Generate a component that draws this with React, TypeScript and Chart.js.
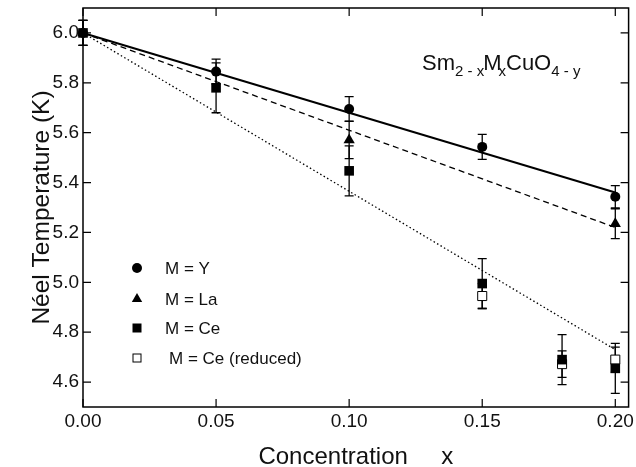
import React, { useEffect, useRef } from 'react';
import { Chart, registerables } from 'chart.js';

Chart.register(...registerables);

const FONT = '"Liberation Sans", Arial, Helvetica, sans-serif';

// Axis ticks
const xTicks = [0, 0.05, 0.1, 0.15, 0.2];
const yTicks = [4.6, 4.8, 5.0, 5.2, 5.4, 5.6, 5.8, 6.0];

// M = Y
const xY = [0, 0.05, 0.1, 0.15, 0.2];
const tY = [6.0, 5.845, 5.695, 5.543, 5.343];
const eY = [0.05, 0.05, 0.05, 0.05, 0.045];

// M = La
const xLa = [0, 0.1, 0.2];
const tLa = [6.0, 5.571, 5.235];
const eLa = [0.05, 0.075, 0.06];

// M = Ce
const xCe = [0, 0.05, 0.1, 0.15, 0.18, 0.2];
const tCe = [6.0, 5.78, 5.447, 4.995, 4.69, 4.655];
const eCe = [0.05, 0.1, 0.1, 0.1, 0.1, 0.1];

// M = Ce (reduced)
const xCeR = [0.15, 0.18, 0.2];
const tCeR = [4.945, 4.672, 4.69];
const eCeR = [0.05, 0.053, 0.05];

// Linear fits
const fitX = [0, 0.2];
const fitYv = [6.0, 5.36];
const fitLav = [6.0, 5.22];
const fitCev = [6.0, 4.73];

const legendLabels = ['M = Y', 'M = La', 'M = Ce', 'M = Ce (reduced)'];

const pts = (xs: number[], ys: number[]) => xs.map((x, i) => ({ x, y: ys[i] }));

const errSets = [
  { x: xY, y: tY, e: eY },
  { x: xLa, y: tLa, e: eLa },
  { x: xCe, y: tCe, e: eCe },
  { x: xCeR, y: tCeR, e: eCeR },
];

const errorBarsPlugin = {
  id: 'errorBars',
  beforeDatasetsDraw(chart: any) {
    const { ctx, scales } = chart;
    const xs = scales.x;
    const ys = scales.y;
    ctx.save();
    ctx.strokeStyle = '#000';
    ctx.lineWidth = 1.3;
    const cap = 4.5;
    errSets.forEach((s) => {
      s.x.forEach((xv, i) => {
        const px = xs.getPixelForValue(xv);
        const top = ys.getPixelForValue(s.y[i] + s.e[i]);
        const bot = ys.getPixelForValue(s.y[i] - s.e[i]);
        ctx.beginPath();
        ctx.moveTo(px, top);
        ctx.lineTo(px, bot);
        ctx.moveTo(px - cap, top);
        ctx.lineTo(px + cap, top);
        ctx.moveTo(px - cap, bot);
        ctx.lineTo(px + cap, bot);
        ctx.stroke();
      });
    });
    ctx.restore();
  },
};

const framePlugin = {
  id: 'frame',
  afterDraw(chart: any) {
    const { ctx, chartArea: a, scales } = chart;
    const xs = scales.x;
    const ys = scales.y;
    const tl = 8;
    ctx.save();
    ctx.strokeStyle = '#000';
    ctx.lineWidth = 1.5;
    ctx.strokeRect(a.left, a.top, a.right - a.left, a.bottom - a.top);
    ctx.lineWidth = 1.2;
    ctx.beginPath();
    xTicks.forEach((v) => {
      const px = xs.getPixelForValue(v);
      ctx.moveTo(px, a.bottom);
      ctx.lineTo(px, a.bottom - tl);
      ctx.moveTo(px, a.top);
      ctx.lineTo(px, a.top + tl);
    });
    yTicks.forEach((v) => {
      const py = ys.getPixelForValue(v);
      ctx.moveTo(a.left, py);
      ctx.lineTo(a.left + tl, py);
      ctx.moveTo(a.right, py);
      ctx.lineTo(a.right - tl, py);
    });
    ctx.stroke();

    // Formula label
    ctx.fillStyle = '#111';
    ctx.textBaseline = 'alphabetic';
    ctx.textAlign = 'left';
    const big = `22px ${FONT}`;
    const small = `15px ${FONT}`;
    let cx = a.left + 339;
    const base = 70;
    const sub = 76;
    const parts: [string, string, number, number][] = [
      ['Sm', big, base, 0],
      ['2 - x', small, sub, 0],
      ['M', big, base, -1],
      ['x', small, sub, -3],
      ['CuO', big, base, 0],
      ['4 - y', small, sub, 0],
    ];
    parts.forEach(([t, f, by, adj]) => {
      ctx.font = f;
      cx += adj;
      ctx.fillText(t, cx, by);
      cx += ctx.measureText(t).width;
    });

    // Legend
    const lx = 137;
    const tx = 165;
    const rows = [268, 299, 328, 358];
    ctx.font = `17px ${FONT}`;
    ctx.textBaseline = 'middle';
    ctx.fillStyle = '#000';
    ctx.beginPath();
    ctx.arc(lx, rows[0], 5, 0, Math.PI * 2);
    ctx.fill();
    ctx.beginPath();
    ctx.moveTo(lx, rows[1] - 6);
    ctx.lineTo(lx + 5.2, rows[1] + 3);
    ctx.lineTo(lx - 5.2, rows[1] + 3);
    ctx.closePath();
    ctx.fill();
    ctx.fillRect(lx - 4.5, rows[2] - 4.5, 9, 9);
    ctx.lineWidth = 1;
    ctx.strokeStyle = '#000';
    ctx.strokeRect(lx - 4, rows[3] - 4, 8, 8);
    ctx.fillStyle = '#111';
    legendLabels.forEach((t, i) => {
      ctx.fillText(t, i === 3 ? tx + 4 : tx, rows[i] + 1);
    });
    ctx.restore();
  },
};

const noPad = (s: any) => {
  s.paddingTop = 0;
  s.paddingBottom = 0;
  s.paddingLeft = 0;
  s.paddingRight = 0;
};

export default function App() {
  const ref = useRef<HTMLCanvasElement | null>(null);
  useEffect(() => {
    if (!ref.current) return;
    const common = { showLine: false, clip: false as any };
    const chart = new Chart(ref.current, {
      type: 'scatter',
      data: {
        datasets: [
          {
            label: 'M = Ce',
            data: pts(xCe, tCe),
            pointStyle: 'rect',
            pointRadius: 6.8,
            backgroundColor: '#000',
            borderColor: '#000',
            borderWidth: 0,
            order: 1,
            ...common,
          },
          {
            label: 'M = Ce (reduced)',
            data: pts(xCeR, tCeR),
            pointStyle: 'rect',
            pointRadius: 6.4,
            backgroundColor: '#fff',
            borderColor: '#000',
            borderWidth: 1,
            order: 2,
            ...common,
          },
          {
            label: 'M = La',
            data: pts(xLa, tLa),
            pointStyle: 'triangle',
            pointRadius: 6.5,
            backgroundColor: '#000',
            borderColor: '#000',
            borderWidth: 0,
            order: 3,
            ...common,
          },
          {
            label: 'M = Y',
            data: pts(xY, tY),
            pointStyle: 'circle',
            pointRadius: 5,
            backgroundColor: '#000',
            borderColor: '#000',
            borderWidth: 0,
            order: 4,
            ...common,
          },
          {
            label: 'fit Y',
            data: pts(fitX, fitYv),
            showLine: true,
            pointRadius: 0,
            borderColor: '#000',
            borderWidth: 2,
            order: 5,
            clip: false as any,
          },
          {
            label: 'fit La',
            data: pts(fitX, fitLav),
            showLine: true,
            pointRadius: 0,
            borderColor: '#000',
            borderWidth: 1.3,
            borderDash: [6, 4],
            order: 6,
            clip: false as any,
          },
          {
            label: 'fit Ce',
            data: pts(fitX, fitCev),
            showLine: true,
            pointRadius: 0,
            borderColor: '#000',
            borderWidth: 1.3,
            borderDash: [1.5, 2.5],
            order: 7,
            clip: false as any,
          },
        ],
      },
      options: {
        animation: false,
        responsive: false,
        maintainAspectRatio: false,
        events: [],
        layout: { padding: { top: 8, right: 7, left: 0, bottom: 0 } },
        plugins: { legend: { display: false }, tooltip: { enabled: false } },
        scales: {
          x: {
            type: 'linear',
            min: 0,
            max: 0.205,
            grid: { display: false, drawTicks: false },
            border: { display: false },
            afterBuildTicks: (s: any) => {
              s.ticks = xTicks.map((v) => ({ value: v }));
            },
            afterFit: (s: any) => {
              s.height = 60;
              noPad(s);
            },
            ticks: {
              callback: (v: any) => Number(v).toFixed(2),
              font: { family: FONT, size: 19 },
              color: '#111',
              padding: 3,
              maxRotation: 0,
              autoSkip: false,
            },
            title: {
              display: true,
              text: 'Concentration     x',
              font: { family: FONT, size: 24, lineHeight: 0.8 },
              color: '#111',
              padding: 0,
            },
          },
          y: {
            type: 'linear',
            min: 4.5,
            max: 6.1,
            grid: { display: false, drawTicks: false },
            border: { display: false },
            afterBuildTicks: (s: any) => {
              s.ticks = yTicks.map((v) => ({ value: v }));
            },
            afterFit: (s: any) => {
              s.width = 83;
              noPad(s);
            },
            ticks: {
              callback: (v: any) => Number(v).toFixed(1),
              font: { family: FONT, size: 19 },
              color: '#111',
              padding: 4,
              autoSkip: false,
            },
            title: {
              display: true,
              text: 'Néel Temperature (K)',
              font: { family: FONT, size: 24.5, lineHeight: 0.8 },
              color: '#111',
              padding: { top: 32, bottom: 0 },
            },
          },
        },
      },
      plugins: [errorBarsPlugin, framePlugin],
    });
    return () => chart.destroy();
  }, []);
  return (
    <div style={{ position: 'fixed', left: 0, top: 0, width: 636, height: 467, background: '#fff' }}>
      <canvas ref={ref} width={636} height={467} style={{ display: 'block' }} />
    </div>
  );
}
